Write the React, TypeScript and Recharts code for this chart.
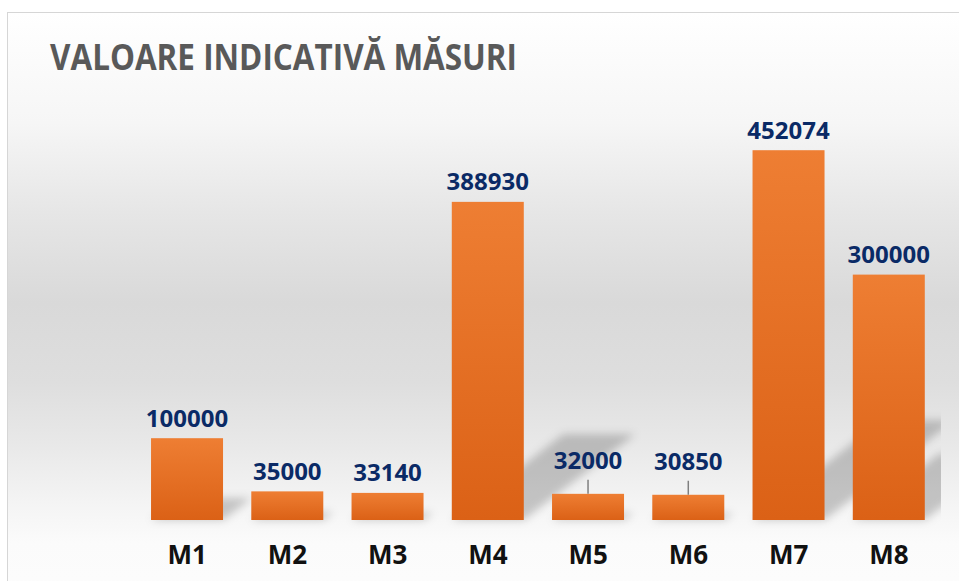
import { BarChart, Bar, XAxis, YAxis, LabelList } from 'recharts'

const title = 'VALOARE INDICATIVĂ MĂSURI'
const categories = ['M1', 'M2', 'M3', 'M4', 'M5', 'M6', 'M7', 'M8']
const values = [100000, 35000, 33140, 388930, 32000, 30850, 452074, 300000]
// labels that sit higher with a small leader line
const liftedLabels = ['M5', 'M6']

const data = categories.map((name, i) => ({ name, value: values[i] }))

const FONT = '"Open Sans", "Noto Sans", sans-serif'

const ShadowBar = (props: any) => {
  const { x, y, width, height } = props
  if (!height || height <= 0) return null
  const base = y + height
  const rise = height * 0.27
  const shift = rise * 1.3
  const pts = `${x},${base} ${x + width},${base} ${x + width + shift},${base - rise} ${x + shift},${base - rise}`
  return (
    <g>
      <polygon points={pts} fill="#000" fillOpacity={0.2} filter="url(#shadowBlur)" clipPath="url(#plotClip)" />
      <rect x={x} y={y} width={width} height={height} fill="url(#barFill)" />
    </g>
  )
}

const ValueLabel = (props: any) => {
  const { x, y, width, value, index } = props
  const i = index ?? values.indexOf(value)
  const cx = x + width / 2
  const lifted = liftedLabels.includes(categories[i])
  const baseline = lifted ? y - 25 : y - 11.5
  return (
    <g>
      {lifted && <line x1={cx} x2={cx} y1={y - 14} y2={y} stroke="#7f7f7f" strokeWidth={1.5} />}
      <text x={cx} y={baseline} textAnchor="middle" fill="#0a2a66" fontFamily={FONT} fontWeight={700} fontSize={24}>
        {value}
      </text>
    </g>
  )
}

const CategoryTick = (props: any) => {
  const { x, y, payload } = props
  return (
    <text x={x} y={y + 44} textAnchor="middle" fill="#111" fontFamily={FONT} fontWeight={700} fontSize={26}>
      {payload.value}
    </text>
  )
}

export default function App() {
  return (
    <div style={{ position: 'relative', width: 959, height: 581, overflow: 'hidden', background: '#fff' }}>
      <style>{'body{margin:0}'}</style>
      <div
        style={{
          position: 'absolute',
          left: 7,
          top: 12,
          width: 980,
          height: 600,
          border: '1.5px solid #d6d6d6',
          background:
            'linear-gradient(to bottom, #ffffff 0px, #f6f6f6 110px, #e6e6e6 200px, #d9d9d9 290px, #dedede 370px, #e8e8e8 430px, #f4f4f4 490px, #fbfbfb 530px, #fdfdfd 600px)',
        }}
      />
      <svg width={959} height={100} style={{ position: 'absolute', left: 0, top: 0 }}>
        <text x={50} y={70} fill="#595959" fontFamily={FONT} fontWeight={700} fontSize={35} textLength={467} lengthAdjust="spacingAndGlyphs">
          {title}
        </text>
      </svg>
      <div style={{ position: 'absolute', left: 0, top: 0 }}>
        <BarChart width={959} height={581} data={data} margin={{ top: 111, right: 20, bottom: 21, left: 137 }} barCategoryGap="14%">
          <defs>
            <linearGradient id="barFill" x1="0" y1="0" x2="0" y2="1">
              <stop offset="0%" stopColor="#ee7e33" />
              <stop offset="100%" stopColor="#db6116" />
            </linearGradient>
            <filter id="shadowBlur" filterUnits="userSpaceOnUse" x={0} y={0} width={959} height={581}>
              <feGaussianBlur stdDeviation={4} />
            </filter>
            <clipPath id="plotClip">
              <rect x={0} y={0} width={941} height={581} />
            </clipPath>
          </defs>
          <XAxis dataKey="name" axisLine={false} tickLine={false} tickSize={0} tickMargin={0} height={40} tick={<CategoryTick />} interval={0} />
          <YAxis hide domain={[0, 500000]} />
          <Bar dataKey="value" shape={<ShadowBar />} isAnimationActive={false}>
            <LabelList dataKey="value" content={<ValueLabel />} />
          </Bar>
        </BarChart>
      </div>
    </div>
  )
}
